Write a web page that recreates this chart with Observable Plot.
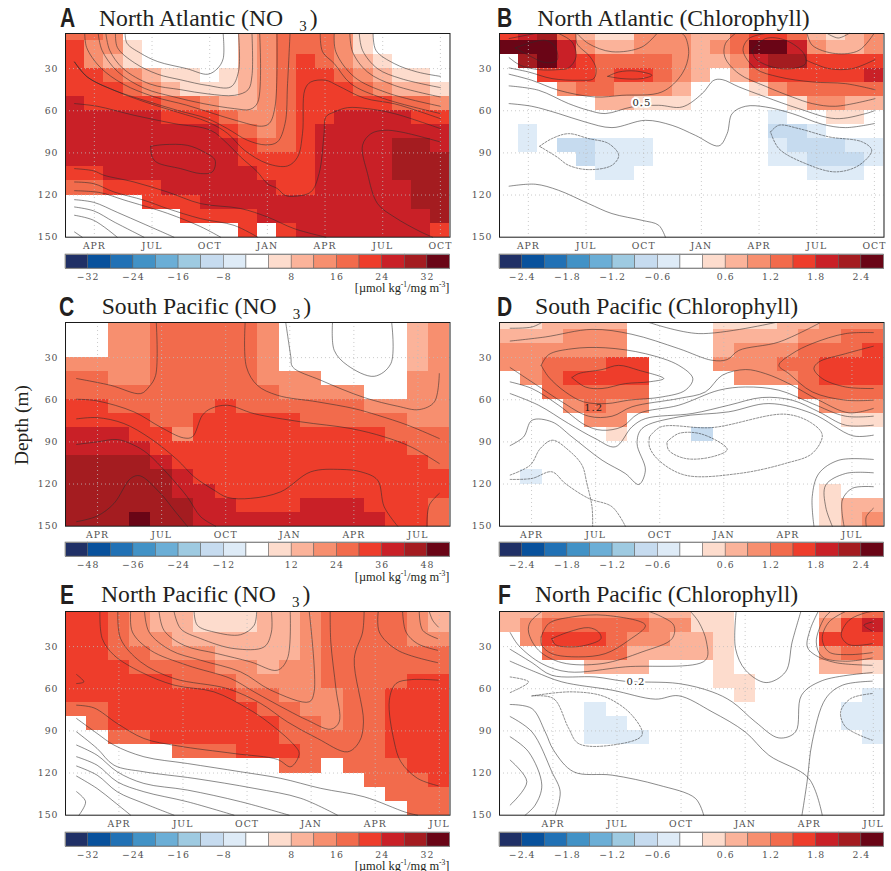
<!DOCTYPE html>
<html><head><meta charset="utf-8">
<script src="https://cdn.jsdelivr.net/npm/d3@7"></script>
<script src="https://cdn.jsdelivr.net/npm/@observablehq/plot@0.6"></script>
<style>
html,body{margin:0;background:#fff}
#page{position:relative;width:891px;height:871px;overflow:hidden;background:#fff}
#page>svg,#page>div{position:absolute}
.t{font-family:"Liberation Serif",serif;font-size:23.7px;line-height:24px;color:#231f20;white-space:nowrap}
.l{font-family:"Liberation Sans",sans-serif;font-weight:bold;font-size:27px;line-height:27px;color:#231f20;transform:scaleX(0.78);transform-origin:left center}
.u{font-family:"Liberation Serif",serif;font-size:12.4px;line-height:11px;color:#231f20;white-space:nowrap;text-align:right}
.u sup{font-size:7.5px;line-height:0}
</style></head><body><div id="page"></div>
<script>
const palette=["#203066","#08519c","#2171b5","#4292c6","#6baed6","#9ecae1","#c6dbef","#deebf7","#ffffff","#fddccd","#fbb39a","#f78f6f","#f26b4c","#ee3d2b","#c92027","#a41c20","#6a0516"];
const depthEdges=[5,10,20,30,40,50,60,70,80,90,100,110,120,130,140,150];
const depthTicks=[30,60,90,120,150];
const monthsA=["APR","JUL","OCT","JAN","APR","JUL","OCT"];
const monthsC=["APR","JUL","OCT","JAN","APR","JUL"];
const tickPosA=[1.5,4.5,7.5,10.5,13.5,16.5,19.5];
const tickPosC=[1.5,4.5,7.5,10.5,13.5,16.5];
const tickPosE=[2.5,5.5,8.5,11.5,14.5,17.5];

const gridA=[
[4,4,3,0,0,0,0,0,0,2,3,4,4,4,3,1,0,0,0,0],
[5,3,3,1,0,0,0,0,0,2,3,4,4,4,3,1,0,0,0,0],
[5,3,2,1,0,0,0,0,0,2,3,4,5,4,3,2,1,0,0,0],
[5,5,4,3,2,1,1,0,1,2,3,4,5,5,4,3,2,1,1,0],
[5,5,5,4,3,2,1,1,1,2,3,4,5,5,5,4,3,2,2,1],
[6,5,5,5,5,4,4,3,2,2,3,4,5,5,5,5,5,4,4,3],
[6,6,6,6,6,5,5,5,4,3,3,4,5,5,6,6,6,6,5,5],
[6,6,6,6,6,6,6,6,5,4,3,4,5,6,6,6,6,6,6,6],
[6,6,6,6,6,6,6,6,6,5,4,4,5,6,6,6,6,7,7,6],
[6,6,6,6,6,6,6,6,6,5,5,5,5,6,6,6,6,7,7,7],
[5,5,6,6,6,6,6,6,6,6,5,5,5,6,6,6,6,7,7,7],
[4,4,5,5,5,6,6,6,6,6,6,5,5,6,6,6,6,6,7,7],
[0,0,0,0,5,5,5,6,6,6,6,6,6,6,6,6,6,6,7,7],
[0,0,0,0,0,0,5,5,5,5,6,6,6,6,6,6,6,6,6,7],
[0,0,0,0,0,0,0,0,0,5,0,5,6,6,6,6,6,6,6,5]];
const gridB=[
[5,6,7,4,2,1,1,3,3,3,2,2,4,5,5,4,2,1,2,3],
[8,8,8,6,3,2,2,3,3,3,2,3,4,8,8,6,3,2,2,3],
[0,7,8,6,5,4,4,4,4,3,2,2,3,6,7,7,5,5,5,5],
[0,0,5,5,5,4,5,5,4,3,2,0,2,4,5,5,5,5,5,6],
[0,0,0,3,4,4,3,3,3,2,0,0,0,1,3,4,4,4,4,4],
[0,0,0,0,0,2,2,1,1,1,0,0,0,0,0,1,3,3,2,2],
[0,0,0,0,0,0,0,0,0,0,0,0,0,0,-1,0,0,1,1,0],
[0,-1,0,0,0,0,0,0,0,0,0,0,0,0,-2,-2,-1,0,0,0],
[0,-1,0,-2,-2,-1,-1,-1,0,0,0,0,0,0,-1,-2,-2,-2,-1,-1],
[0,0,0,0,-2,-1,-1,-1,0,0,0,0,0,0,-1,-1,-2,-2,-2,-1],
[0,0,0,0,0,-1,-1,0,0,0,0,0,0,0,0,0,-1,-1,-1,0],
[0,0,0,0,0,0,0,0,0,0,0,0,0,0,0,0,0,0,0,0],
[0,0,0,0,0,0,0,0,0,0,0,0,0,0,0,0,0,0,0,0],
[0,0,0,0,0,0,0,0,0,0,0,0,0,0,0,0,0,0,0,0],
[0,0,0,0,0,0,0,0,0,0,0,0,0,0,0,0,0,0,0,0]];
const gridC=[
[0,0,3,3,4,4,4,4,4,3,0,0,0,0,0,0,2,3],
[0,0,3,3,4,4,4,4,4,3,0,0,0,0,0,0,2,3],
[0,0,3,3,4,4,4,4,4,3,0,0,0,0,0,0,2,3],
[3,3,3,3,4,4,4,4,4,3,0,0,0,0,0,0,2,3],
[4,4,3,3,4,4,4,4,4,3,3,3,0,0,0,0,3,3],
[4,4,4,4,4,4,4,4,4,4,3,3,3,3,0,0,3,3],
[5,5,4,4,4,4,4,5,4,4,4,4,4,4,3,3,3,3],
[5,5,5,5,4,4,5,5,5,5,5,4,4,4,4,4,3,3],
[6,6,6,5,5,3,5,5,5,5,5,5,5,5,5,4,4,4],
[6,6,6,6,5,5,5,5,5,5,5,5,5,5,5,5,4,4],
[7,7,7,7,6,5,5,5,5,5,5,5,5,5,5,5,5,4],
[7,7,7,7,7,6,5,5,5,5,5,5,5,5,5,5,5,5],
[7,7,7,7,7,6,6,5,5,5,5,5,5,5,5,5,5,5],
[7,7,7,7,7,7,6,6,5,5,5,6,6,6,5,5,5,4],
[7,7,7,8,7,7,6,6,6,6,6,6,6,6,6,5,5,4]];
const gridD=[
[1,1,2,2,2,2,0,0,0,0,1,1,1,2,2,3,3,3],
[2,2,2,3,3,3,0,0,0,0,2,2,2,2,3,3,4,4],
[3,3,3,3,3,3,0,0,0,0,2,3,3,3,4,4,4,5],
[3,3,4,4,4,5,5,0,0,0,3,3,3,4,4,5,5,5],
[0,3,4,5,5,5,5,0,0,0,0,3,3,3,4,5,5,5],
[0,0,4,4,4,4,4,0,0,0,0,0,0,0,4,4,4,4],
[0,0,0,3,4,3,3,0,0,0,0,0,0,0,0,3,3,3],
[0,0,0,0,3,3,0,0,0,0,0,0,0,0,0,0,1,1],
[0,0,0,0,0,1,0,0,0,-2,0,0,0,0,0,0,0,0],
[0,0,0,0,0,0,0,0,0,0,0,0,0,0,0,0,0,0],
[0,0,0,0,0,0,0,0,0,0,0,0,0,0,0,0,0,0],
[0,-1,0,0,0,0,0,0,0,0,0,0,0,0,0,0,0,0],
[0,0,0,0,0,0,0,0,0,0,0,0,0,0,0,1,0,0],
[0,0,0,0,0,0,0,0,0,0,0,0,0,0,0,1,2,2],
[0,0,0,0,0,0,0,0,0,0,0,0,0,0,0,1,2,3]];
const gridE=[
[5,5,4,3,2,2,1,1,1,2,2,3,4,4,4,4,3,2],
[5,5,4,3,2,2,1,1,1,2,2,3,4,4,4,4,3,2],
[5,5,4,3,3,2,2,2,2,2,2,3,4,4,4,4,3,3],
[5,5,4,4,3,3,3,2,2,2,2,3,4,4,4,4,4,4],
[5,5,5,4,4,4,4,3,3,2,3,3,4,4,4,4,4,4],
[5,5,5,5,5,4,4,4,3,3,3,3,4,4,4,4,5,5],
[5,5,5,5,5,5,5,5,4,4,3,3,3,4,4,5,5,5],
[4,4,5,5,5,5,5,5,5,4,4,3,3,4,4,5,5,5],
[0,4,5,5,5,5,5,5,5,5,4,4,3,4,4,5,5,5],
[0,0,4,4,5,5,5,5,5,5,4,4,4,4,4,5,5,5],
[0,0,0,0,0,4,4,4,5,5,5,4,4,4,4,5,5,5],
[0,0,0,0,0,0,0,0,0,0,4,4,0,4,4,4,5,5],
[0,0,0,0,0,0,0,0,0,0,0,0,0,0,4,4,4,5],
[0,0,0,0,0,0,0,0,0,0,0,0,0,0,0,4,4,4],
[0,0,0,0,0,0,0,0,0,0,0,0,0,0,0,0,4,4]];
const gridF=[
[2,2,3,3,3,3,3,2,2,1,1,0,0,0,0,2,3,4],
[2,3,4,4,4,4,4,3,3,1,1,0,0,0,0,3,5,6],
[0,3,5,5,5,4,3,3,2,2,1,0,0,0,0,5,5,5],
[0,0,4,4,4,4,2,2,2,2,1,0,0,0,0,3,4,3],
[0,0,0,0,2,2,2,0,0,0,1,0,0,0,0,2,2,1],
[0,0,0,0,0,0,0,0,0,0,1,1,0,0,0,0,0,0],
[0,0,0,0,0,0,0,0,0,0,0,1,0,0,0,0,0,-1],
[0,0,0,0,-1,0,0,0,0,0,0,0,0,0,0,0,-1,-1],
[0,0,0,0,-1,-1,0,0,0,0,0,0,0,0,0,0,-1,-1],
[0,0,0,0,-1,-1,-1,0,0,0,0,0,0,0,0,0,0,-1],
[0,0,0,0,0,0,0,0,0,0,0,0,0,0,0,0,0,0],
[0,0,0,0,0,0,0,0,0,0,0,0,0,0,0,0,0,0],
[0,0,0,0,0,0,0,0,0,0,0,0,0,0,0,0,0,0],
[0,0,0,0,0,0,0,0,0,0,0,0,0,0,0,0,0,0],
[0,0,0,0,0,0,0,0,0,0,0,0,0,0,0,0,0,0]];

const contoursA=[
[[3.1,5],[3.2,12],[3.9,19],[4.8,25],[6.3,30],[7.4,34],[7.9,30],[8.2,23],[8.2,5]],
[[2.6,5],[2.7,15],[3.6,26],[4.8,34],[6,38],[7.4,42],[8.6,43],[9,32],[9,5]],
[[2.1,5],[2.3,17],[3,30],[4.4,41],[6,45],[7.4,48],[8.8,49],[9.5,45],[9.7,35],[9.7,5]],
[[1.7,5],[1.9,17],[2.7,32],[4.1,44],[5.6,50],[7.2,55],[8.8,58.5],[9.6,59],[10,54],[10.1,5]],
[[1,5],[1.1,15],[1.8,29],[3,41],[4.6,50],[6.3,56],[7.7,62],[8.9,67],[10.2,71],[10.6,69],[10.9,57],[11,5]],
[[.47,25.3],[1.13,35.9],[2.52,45.4],[4.08,52.5],[5.82,59.7],[7.38,65.6],[8.42,72.7],[9.46,81],[10.42,84.3],[11.02,82.2],[11.42,69.1],[11.55,40.7],[11.68,5]],
[[.47,25.3],[1.13,35.9],[2.52,45.4],[4.08,53.5],[5.82,61],[7.4,68],[8.42,76],[9.3,88],[10.5,97.6],[11.55,99.3],[12.07,93],[12.33,76],[12.45,45],[12.76,39.5],[13.54,38.3],[14.15,42],[15.54,51],[17.1,55],[18.3,60],[19.5,65.6]],
[[.47,54.9],[1.65,56.8],[3.56,63.2],[5.64,69.1],[7.55,73.9],[8.42,83.4],[9.11,92.9],[9.98,103.5],[10.5,111.9],[11.02,115.4],[11.42,120.2],[11.89,120.9],[12.76,117.8],[13.19,104.7],[13.45,76.3],[13.54,64.4],[13.98,60.9],[14.67,57.8],[15.71,58.5],[17.1,62],[19.5,72.7]],
[[4.43,85.3],[5.12,84.1],[6.34,84.6],[7.2,89.3],[7.78,95.2],[7.64,103.5],[7.03,104.7],[5.99,101.2],[4.77,96.9],[4.51,92.9],[4.43,85.3]],
[[.47,101.2],[1.47,102.8],[2,105.9],[3.56,110.7],[5.3,117.8],[7.03,126.1],[9.11,129.6],[10.5,135.6],[11.89,143.9],[13.54,150]],
[[.47,110.7],[1.47,111.9],[2.52,117.8],[4.08,123.7],[5.3,129.6],[7.03,136.8],[8.77,141.6],[10,150]],
[[19.5,82.2],[17.45,75.1],[16.58,73.9],[15.89,76.3],[15.45,84.6],[15.71,104.7],[16.23,126.1],[17.1,135.6],[18.49,146.3],[19.1,150]],
[[16,5],[16.15,17],[17.1,26.4],[18.3,32.4],[19.5,35.5]],
[[15.28,5],[15.45,17],[16.23,30],[17.45,37.1],[19.5,43.5]],
[[14.79,5],[14.93,18],[15.71,32.4],[17.1,41.9],[19.5,50.2]],
[[13.98,5],[14.06,18],[15.02,35.9],[16.75,47.3],[19.5,56.8]],
[[13.25,5],[13.37,18],[13.98,26.4],[14.84,40.7],[16.58,51.4],[19.5,62]],
[[.47,116.9],[1.82,118.3],[3.04,123.5],[5.3,133],[7.03,142.5],[8.07,150]],
[[.47,123.3],[1.47,125.2],[2.69,132.3],[4.08,140.6],[5.64,150]],
[[.47,128.5],[1.47,131.3],[2.52,139.1],[4.08,150]],
[[.47,134.4],[1.47,138],[2.69,150]],
[[.47,146.3],[.87,150]]];
const dashedA=[];

const contoursB=[
[[.82,15.3],[2.38,9.8],[2.9,14.6],[2.99,24.1],[2.38,25.7],[1.51,20.5],[.82,15.3]],
[[.5,22.2],[1.08,27.6],[2.03,30.7],[3.07,30.7],[3.59,29.5],[3.98,21.7],[3.77,11],[3.07,5]],
[[.5,8.6],[1.86,5]],
[[.5,29.5],[1.51,32.4],[2.73,37.1],[4.11,38.3],[4.9,37.1],[5.02,30],[4.72,21.7],[4.03,12.2],[3.98,5]],
[[.5,34],[1.68,38.3],[3.07,45.4],[4.98,50.2],[6.37,49],[8.45,46.6],[9.5,33.6],[9.84,19.3],[9.67,7.5],[9.5,5]],
[[.5,42.3],[2.03,45.4],[3.59,54.9],[4.63,59.7],[5.5,62],[6.89,57.3],[8.28,56.1],[9.5,57.3],[10.54,47.8],[11.15,38.3],[11.58,37.8],[12.45,43],[13.84,50.2],[15.57,58.5],[17.48,65.6],[19.05,62],[19.5,60]],
[[.5,54.9],[1.68,56.8],[3.07,62],[4.46,68],[5.85,72],[7.59,66.8],[8.98,70.4],[10.19,77.5],[11.41,85],[11.84,76.3],[12.1,62],[12.8,56.8],[13.84,57.3],[15.23,62],[16.79,69.6],[18,72],[19.5,69.1]],
[[4.03,5],[4.63,12.2],[5.85,18],[7.41,14.6],[8.19,5]],
[[5.63,35.5],[6.2,32.4],[7.07,31.7],[7.93,34.7],[7.41,37.1],[6.37,37.1],[5.63,35.5]],
[[13.14,17],[13.84,8.6],[14.88,9.8],[15.83,19.3],[15.92,26.4],[15.22,30],[14.18,28.8],[13.32,22.9],[13.14,17]],
[[13.84,5],[12.97,8.6],[12.67,17],[13.32,30],[14.53,35.9],[16.27,39.5],[18,40.7],[19.53,45]],
[[12.27,5],[11.75,12.2],[11.72,21.7],[12.45,33.6],[13.84,42.6],[15.23,50.2],[16.27,54.9],[17.48,56.8],[19.53,51.4]],
[[16,5],[16.27,13.4],[17.48,19.3],[18.7,17],[19.48,5]],
[[17.05,5],[17.62,8.2],[18.18,5]],
[[15.95,24],[17.14,30],[18.35,30],[19.53,23.6]],
[[.5,113.7],[1.86,112.3],[3.07,116.6],[4.63,126.1],[5.85,133.2],[7.41,138],[8.28,141.5],[8.63,150]]];
const dashedB=[
[[2.08,85.3],[2.73,79.8],[3.59,76.3],[4.63,79.8],[5.68,83.4],[6.2,91.7],[5.85,98.8],[4.63,101.9],[3.59,98.8],[2.99,92.9],[2.08,85.3]],
[[14.1,75.1],[14.53,70.3],[15.57,72.7],[17.14,78.6],[18.87,82.2],[19.36,88.1],[18.7,98.8],[17.48,103.5],[15.92,97.6],[14.53,86.9],[14.1,75.1]]];

const contoursC=[
[[.52,44.9],[2.11,49.7],[3.52,55.6],[3.91,50.8],[4.22,42.6],[4.25,5]],
[[8.41,5],[8.47,36.6],[8.98,49.7],[9.92,56.8],[11.8,61.5],[13.52,66.3],[14.61,71],[16.02,78.1],[17.5,87.6]],
[[10.31,5],[10.55,29.5],[10.63,36.6],[11.95,46.1],[13.98,58.4],[15.55,64.6],[16.56,67],[17.27,61.5],[17.5,41.4]],
[[12.5,5],[12.58,24.8],[13.2,35.5],[14.45,43.3],[15.23,34.3],[15.27,5]],
[[.52,59.6],[1.48,60.8],[3.2,68.6],[4.45,79.5],[5.52,87.1],[5.94,86.4],[6.41,71],[6.8,66.3],[7.58,63.9],[8.83,69.9],[11.02,75.7],[13.36,80.5],[14.92,86.4],[16.17,93.5],[17.5,105.4]],
[[.52,73.6],[1.48,72.7],[2.73,76.9],[3.98,87.6],[5.23,102.7],[6.02,114.8],[6.95,124.3],[7.58,129.5],[8.67,130.2],[10.08,125.5],[11.48,111.3],[12.89,109.6],[13.83,111.3],[14.61,117.2],[14.92,136.2],[15.55,150]],
[[.52,91.8],[1.48,90],[2.42,88.3],[3.2,92.3],[3.83,98.2],[4.77,112.5],[5.7,129.1],[6.33,143.3],[7.03,150]],
[[.52,146.8],[1.48,142.8],[2.27,133.8],[3.05,116],[3.48,114.1],[4.45,126.7],[5.08,138.5],[5.7,150]],
[[17.5,126.7],[17.03,135],[16.92,150]]];
const dashedC=[];

const contoursD=[
[[.5,9.1],[1.52,8.2],[1.98,5]],
[[.5,18.2],[2.14,15.3],[4.33,9.9],[6.2,13.4],[8.39,23.6],[9.95,31.9],[10.66,31.4],[11.2,24.9],[13.08,18.9],[15.03,5]],
[[7,5],[9.33,12.9],[12.92,5]],
[[1.95,35.5],[2.3,43.8],[3.08,54.4],[3.94,61.5],[5.03,62.7],[6.05,60.3],[7.61,58],[8.7,53.2],[9.05,44.9],[8.39,35.5],[6.83,27.2],[4.95,23],[3.39,23.7],[2.3,27.9],[1.95,35.5]],
[[3.39,44.2],[3.7,41.4],[4.8,38.5],[5.58,35.5],[6.52,39],[7.69,44.9],[6.98,47.3],[5.89,48.5],[4.8,52],[4.02,50.9],[3.39,44.2]],
[[.5,37.1],[1.98,52],[2.92,61.5],[4.17,71.7],[5.27,71.7],[6.2,65],[8.39,59.1],[9.64,54.4],[10.42,42.6],[11.52,38.5],[12.45,41.4],[13.55,48.5],[14.95,60.3],[16.36,69.3],[17.5,66.2]],
[[.5,47.3],[1.52,52],[2.77,63.9],[4.02,78.1],[4.8,81.7],[5.73,79.3],[6.52,69.8],[8.39,63.9],[10.27,53.2],[11.52,50.9],[13.08,53.2],[14.64,62.7],[16.2,71.7],[17.5,71.7]],
[[.5,55.6],[1.83,63.9],[3.23,76.9],[4.48,87.6],[5.42,93.5],[6.2,79.3],[6.83,73.4],[9.02,69.8],[10.73,63.9],[12.3,58.4],[13.7,60.3],[14.95,68.6],[16.2,78.1],[17.5,78.1]],
[[.5,92.6],[1.13,86.4],[1.52,74.6],[2.45,75.7],[3.39,86.4],[4.8,103],[5.89,112.5],[6.52,120.3],[6.83,110.1],[6.44,91.1],[6.67,80.5],[8.39,72.2],[10.73,68.6],[12.61,62.7],[14.64,69.8],[16.55,85.7],[17.5,85.2]],
[[17.5,102.5],[15.89,103],[14.95,112.5],[14.64,129],[14.72,150]],
[[17.5,112],[16.2,112.5],[15.27,120.8],[15.27,136.2],[15.58,150]],
[[17.5,121.9],[16.52,123],[16.05,131.4],[16.13,150]],
[[17.5,137.3],[17.17,143.3],[17.17,150]],
[[17.5,21.9],[16.2,27.2],[14.95,33.1],[14.72,37.8],[15.11,44.9],[16.2,50.9],[17.5,52]],
[[17.5,12.2],[16.2,12.9],[14.64,20],[13.7,27.2],[13.08,35.5],[13.55,41.4],[14.64,54.4],[16.2,60.3],[17.5,60.3]]];
const dashedD=[
[[7.02,86.4],[7.56,79.3],[9.95,79.8],[13.39,70.3],[14.64,76.9],[15.11,85.2],[14.64,98.2],[13.39,105.3],[11.2,112.5],[8.7,113.7],[7.45,103],[7.02,93.5],[7.02,86.4]],
[[7.84,90],[8.39,84],[9.48,84.5],[10.66,95.4],[9.95,100.6],[8.7,101.8],[7.92,95.9],[7.84,90]],
[[.5,113.6],[1.44,106.5],[1.91,94.7],[2.48,88.8],[3.23,95.9],[3.86,106.5],[4.09,119.6],[4.33,136.2],[4.36,150]],
[[.5,116.7],[1.52,116],[2.45,111.3],[3.08,119.6],[4.17,130.2],[5.27,136.2],[5.89,150]]];

const contoursE=[
[[6.02,5],[6.17,14.8],[6.95,19.6],[8.2,21.5],[8.83,14.8],[8.95,5]],
[[5.08,5],[5.39,17.2],[6.33,24.3],[7.89,31.4],[9.3,30.2],[9.64,19.6],[9.64,5]],
[[4.38,5],[4.61,18.4],[5.55,29.1],[7.11,35],[8.67,40.9],[9.92,46.8],[10.39,38.5],[10.52,5]],
[[3.7,5],[3.91,19.6],[4.92,32.6],[6.33,39.7],[8.2,48],[9.61,61],[11.41,69.3],[11.64,62.2],[11.41,5]],
[[3.05,5],[3.13,19.6],[3.98,32.6],[5.7,43.3],[7.73,52.7],[8.83,62.2],[10.39,75.2],[11.33,82.4],[12.42,88.8],[12.81,83.6],[12.66,59.9],[12.42,26.7],[12.39,5]],
[[2.45,5],[2.58,24.3],[3.52,40.9],[5.08,52.7],[7.58,59.9],[9.14,70.5],[10.39,83.6],[11.8,95.4],[13.2,104.9],[13.75,97.8],[13.95,83.6],[13.52,38.5],[13.91,19.6],[13.98,5]],
[[1.61,5],[1.72,24.3],[2.27,36.1],[3.52,48],[5.08,57.4],[6.95,62.2],[8.52,74],[9.45,83.4],[10.7,100],[10.94,106.1],[10.55,115.5],[9.92,110.3],[7.89,106.1],[5.23,100.6],[3.67,95.4],[2.42,84.7],[1.33,73.6],[.52,71.7]],
[[.52,49.9],[.86,55.1],[.52,56.3]],
[[14.64,5],[14.69,19.6],[15.55,32.6],[17.42,41.4]],
[[15.78,5],[15.94,19.6],[16.48,27.9],[17.42,32.6]],
[[16.56,5],[16.72,18.4],[17.42,24.3]],
[[17.03,5],[17.19,11.3],[17.45,16]],
[[17.45,53.9],[16.2,53.5],[15.47,56.3],[15.16,68.2],[15.39,97.8],[15.7,112],[16.48,123.8],[17.45,129.1]],
[[.52,81.2],[1.48,91.8],[2.27,100.1],[3.67,108.4],[5.7,113.2],[8.2,119.1],[10.08,123.8],[11.95,130.9],[13.98,136.9],[15.94,148],[16.48,150]],
[[.52,90.7],[1.48,102.5],[2.27,114.4],[3.67,119.1],[6.02,123.8],[8.83,130.9],[11.02,138],[12.73,150]],
[[.52,100.1],[1.48,107.3],[2.42,119.1],[3.67,127.4],[5.7,132.1],[8.2,140.4],[10.47,150]],
[[.52,108.4],[1.48,114.4],[2.42,126.2],[3.67,133.3],[5.7,140.4],[7.89,150]],
[[.52,115],[1.48,121.5],[2.42,133.3],[3.67,141.6],[5.08,150]],
[[.52,122.2],[1.48,131],[2.27,140.4],[3.05,150]],
[[.52,133.3],[.94,140.4],[.63,150]]];
const dashedE=[];

const contoursF=[
[[2.45,24.3],[3.23,19.6],[4.17,16.5],[4.64,19.6],[4.75,24.3],[4.02,29.1],[3.23,30.2],[2.61,28.6],[2.45,24.3]],
[[1.95,23.1],[2.3,13.6],[3.39,8.9],[4.95,7.7],[6.83,14.8],[6.05,25.5],[4.95,35],[3.7,37.3],[2.45,35],[1.98,29.1],[1.95,23.1]],
[[1.98,5],[1.44,12.5],[1.36,19.6],[1.83,32.6],[2.92,41.4],[4.8,42.1],[6.67,33.8],[8.08,24.3],[8.16,14.8],[7.45,7.7],[6.98,5]],
[[.5,20],[.89,29.1],[1.98,42.1],[3.23,48],[5.89,44.4],[9.64,39.7],[9.69,26.7],[9.33,12.5],[8.94,5]],
[[.5,31.9],[1.52,41.4],[2.45,50.4],[4.48,51.6],[5.89,54.7],[8.39,56.3],[9.95,62.2],[10.89,69.3],[11.98,83.6],[13.08,95],[13.86,90.7],[14.14,64.6],[15.11,54.2],[17.45,48.5]],
[[.5,40.4],[1.67,48],[2.92,55.1],[5.27,61],[7.3,67.4],[8.39,65],[9.95,76.4],[11.5,90.7],[12.61,107.3],[14.48,123.8],[15.11,150]],
[[17.45,54.6],[16.05,57.5],[15.27,67],[14.64,97.8],[14.4,126.2],[14.16,150]],
[[.5,71.2],[1.52,74.1],[2.14,90.7],[2.53,103.7],[3.47,119.1],[5.27,121.5],[7.45,128.6],[9.17,138],[9.56,150]],
[[.5,79.8],[1.52,90.7],[2.45,119.1],[2.84,133.3],[2.61,150]],
[[.5,94.2],[1.36,104.9],[1.98,128.6],[1.67,142.8],[1.2,150]],
[[.5,110.8],[1.28,126.2],[.5,142.8]],
[[11.08,5],[11.05,31.4],[11.52,46.8],[12.48,55.6],[13.39,48],[13.7,26.7],[14.11,5]],
[[17.45,12.5],[17.06,14.8],[17.45,18.9]],
[[17.45,27.9],[16.36,28.6],[16,21.9],[16.36,11.3],[17.14,5.9],[17.45,5]],
[[17.45,34.3],[16.36,35.7],[15.42,33.8],[15.11,24.3],[15.42,12.5],[16.2,5]],
[[17.45,38.1],[16.2,40.4],[15.11,37.3],[14.83,26.7],[15.19,10.1],[15.5,5]],
[[17.45,43.3],[15.73,41.4],[14.8,36.2],[14.41,30.2],[14.56,17.2],[14.92,5]]];
const dashedF=[
[[.5,51.6],[1.36,55.1],[.5,62.7]],
[[1.52,65.1],[3.39,62.2],[4.95,65.8],[6.2,78.8],[6.67,93],[5.27,100.1],[3.7,99],[3.23,87.9],[2.53,67],[1.52,65.1]],
[[17.45,63.4],[16.44,67],[15.97,76.4],[16.2,87.1],[17.45,96.6]]];

const flat=(ls)=>ls.flatMap((l,id)=>l.map(([x,y])=>({x,y,id})));
const page=document.getElementById("page");
const tickFont={fontFamily:"'DejaVu Serif',serif",fontSize:"9.3px",letterSpacing:"1px",color:"#505050",background:"transparent"};
const ML=40,MR=6,MT=6,MB=20;

function place(svg,left,top){svg.style.left=left+"px";svg.style.top=top+"px";page.appendChild(svg);}

function panel(o){
  const cols=o.grid[0].length;
  const thresholds=d3.range(-8,0).map(i=>+(i*o.step).toFixed(2)).concat(d3.range(1,9).map(i=>+(i*o.step).toFixed(2)));
  const cells=o.grid.flatMap((row,r)=>row.map((lv,c)=>({c,d1:depthEdges[r],d2:depthEdges[r+1],v:lv===0?0:(lv+Math.sign(lv)*0.5)*o.step})));
  const W=384.5,H=203.7;
  const lineOpts={x:"x",y:"y",z:"id",stroke:"#2b2b2b",strokeWidth:0.65,strokeOpacity:0.85,curve:"catmull-rom"};
  const svg=Plot.plot({
    width:W+ML+MR,height:H+MT+MB,marginLeft:ML,marginRight:MR,marginTop:MT,marginBottom:MB,
    style:tickFont,
    x:{domain:[0,cols]},
    y:{domain:[5,150],reverse:true},
    color:{type:"threshold",domain:thresholds,range:palette},
    marks:[
      Plot.rect(cells,{x1:"c",x2:d=>d.c+1,y1:"d1",y2:"d2",fill:"v",shapeRendering:"crispEdges"}),
      Plot.ruleX(o.tickPos,{stroke:"#bdbdbd",strokeWidth:0.8,strokeDasharray:"1,3"}),
      Plot.ruleY(depthTicks.slice(0,4),{stroke:"#bdbdbd",strokeWidth:0.8,strokeDasharray:"1,3"}),
      Plot.line(flat(o.lines),lineOpts),
      Plot.line(flat(o.dashed),{...lineOpts,strokeDasharray:"2,1.5"}),
      o.label?Plot.text([o.label],{x:"x",y:"y",text:"t",fontSize:10,fill:"#222",stroke:o.label.halo?"#fff":"none",strokeWidth:4}):null,
      Plot.axisX({ticks:o.tickPos,tickFormat:(d,i)=>o.months[i],tickSize:0,tickPadding:5,label:null}),
      Plot.axisY({ticks:depthTicks,tickSize:0,tickPadding:7,label:null}),
      Plot.frame({stroke:"#1a1a1a",strokeWidth:1})
    ]
  });
  place(svg,o.left-ML,o.top-MT);
  // colour bar
  const idx=d3.range(17);
  const barLabels=[[1,-8],[3,-6],[5,-4],[7,-2],[10,2],[12,4],[14,6],[16,8]];
  const bar=Plot.plot({
    width:384.5+2,height:33,marginLeft:1,marginRight:1,marginTop:1,marginBottom:18,
    style:tickFont,
    x:{domain:[0,17]},y:{domain:[0,1],axis:null},
    marks:[
      Plot.rect(idx,{x1:d=>d,x2:d=>d+1,y1:0,y2:1,fill:d=>palette[d],stroke:"#5a5a5a",strokeWidth:0.5}),
      Plot.frame({stroke:"#8a8a8a",strokeWidth:1}),
      Plot.axisX({ticks:barLabels.map(d=>d[0]),tickFormat:(d,i)=>{const v=barLabels[i][1]*o.step;const s=o.step<1?Math.abs(v).toFixed(1):String(Math.abs(v));return (v<0?"\u2212":"")+s;},tickSize:0,tickPadding:5,label:null})
    ]
  });
  place(bar,o.barLeft-1,o.barTop-1);
  // title
  const t=document.createElement("div");t.className="t";t.style.left=o.titleX+"px";t.style.top=(o.base-20)+"px";
  t.innerHTML=o.no3?`<span>${o.title} (NO</span><span style="margin-left:16px;font-size:15px;position:relative;top:5px">3</span><span style="margin-left:3px">)</span>`:`${o.title} (Chlorophyll)`;
  page.appendChild(t);
  const l=document.createElement("div");l.className="l";l.textContent=o.letter;l.style.left=o.letterX+"px";l.style.top=(o.base-20.5)+"px";page.appendChild(l);
  if(o.units!=null){const u=document.createElement("div");u.className="u";u.style.right=(891-449.5)+"px";u.style.top=o.units+"px";u.innerHTML="[\u00b5mol kg<sup>-1</sup>/mg m<sup>-3</sup>]";page.appendChild(u);}
}

panel({grid:gridA,step:4,lines:contoursA,dashed:dashedA,months:monthsA,tickPos:tickPosA,left:64.5,top:33.3,barLeft:64.5,barTop:254,title:"North Atlantic",no3:true,titleX:99,base:25.5,letter:"A",letterX:60,units:282.5});
panel({grid:gridB,step:0.3,lines:contoursB,dashed:dashedB,months:monthsA,tickPos:tickPosA,left:499.3,top:33.3,barLeft:498.5,barTop:254,title:"North Atlantic",no3:false,titleX:537.3,base:25.5,letter:"B",letterX:497,label:{x:7.41,y:54.4,t:"0.5",halo:true}});
panel({grid:gridC,step:6,lines:contoursC,dashed:dashedC,months:monthsC,tickPos:tickPosC,left:64.5,top:322.3,barLeft:64.5,barTop:542.3,title:"South Pacific",no3:true,titleX:101.7,base:314,letter:"C",letterX:59,units:571.5});
panel({grid:gridD,step:0.3,lines:contoursD,dashed:dashedD,months:monthsC,tickPos:tickPosC,left:499.3,top:322.3,barLeft:498.5,barTop:542.3,title:"South Pacific",no3:false,titleX:535,base:314,letter:"D",letterX:497,label:{x:4.41,y:65.5,t:"1.2",halo:false}});
panel({grid:gridE,step:4,lines:contoursE,dashed:dashedE,months:monthsC,tickPos:tickPosE,left:64.5,top:611.3,barLeft:64.5,barTop:832,title:"North Pacific",no3:true,titleX:101,base:602.3,letter:"E",letterX:60,units:860.5});
panel({grid:gridF,step:0.3,lines:contoursF,dashed:dashedF,months:monthsC,tickPos:tickPosE,left:499.3,top:611.3,barLeft:498.5,barTop:832,title:"North Pacific",no3:false,titleX:535,base:602.3,letter:"F",letterX:498,label:{x:6.39,y:54.7,t:"0.2",halo:true}});

const yl=document.createElement("div");
yl.textContent="Depth (m)";
yl.style.cssText="left:22px;top:425px;transform:translate(-50%,-50%) rotate(-90deg);font-family:'Liberation Serif',serif;font-size:19.3px;color:#231f20;white-space:nowrap";
page.appendChild(yl);
</script></body></html>
